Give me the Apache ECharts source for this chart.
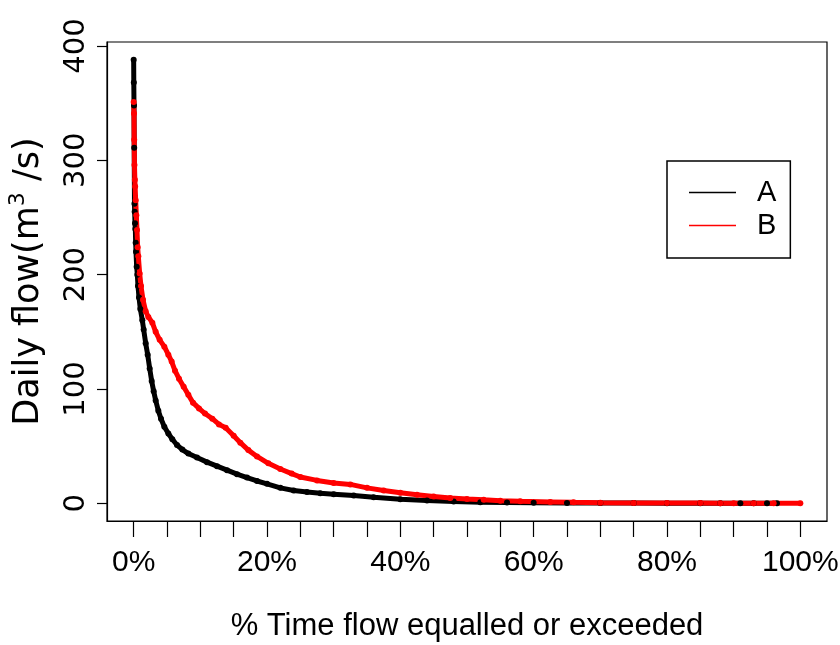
<!DOCTYPE html>
<html>
<head>
<meta charset="utf-8">
<script src="https://cdn.jsdelivr.net/npm/echarts@6/dist/echarts.min.js"></script>
<style>
  html, body { margin: 0; padding: 0; background: #fff; }
  #chart { width: 840px; height: 645px; }
</style>
</head>
<body>
<div id="chart"></div>
<script>
// flow duration curves, [% time exceeded, daily flow m3/s]
const seriesNames = ['A', 'B'];
const seriesColors = ['#000000', '#ff0000'];

const flowA = [
  [0.0, 388], [0.02, 368], [0.05, 348], [0.08, 311], [0.12, 262], [0.15, 255],
  [0.2, 245], [0.25, 240], [0.3, 228], [0.35, 220], [0.45, 207], [0.55, 200],
  [0.65, 190], [0.8, 180], [1.0, 170], [1.3, 160], [1.5, 152], [1.8, 140],
  [2.1, 130], [2.4, 118], [2.7, 107], [3.0, 98], [3.3, 90], [3.7, 81],
  [4.1, 74], [4.6, 67], [5.2, 61], [5.8, 56], [6.5, 51], [7.3, 47],
  [8.2, 43.5], [9.5, 40], [11, 36], [12.5, 32.5], [14, 29], [15.5, 25.5],
  [17, 22.5], [18.5, 19.5], [20, 17], [22, 13.5], [24, 11.2], [26, 9.8],
  [28, 8.7], [30, 8], [33, 6.8], [36, 5.3], [40, 3.5], [44, 2.4],
  [48, 1.6], [52, 1.0], [56, 0.6], [60, 0.4], [65, 0.3], [70, 0.2],
  [75, 0.15], [80, 0.1], [85, 0.1], [88, 0.05], [91, 0.05], [93, 0.02],
  [95, 0], [96.5, 0]
];

const flowB = [
  [0.0, 351], [0.05, 341], [0.08, 318], [0.12, 296], [0.18, 283], [0.22, 277],
  [0.3, 265], [0.4, 252], [0.5, 239], [0.6, 224], [0.7, 216], [0.9, 201],
  [1.1, 190], [1.4, 178], [1.8, 168], [2.2, 163], [2.8, 158], [3.3, 150],
  [3.9, 143], [4.6, 137], [5.2, 130], [5.7, 124], [6.2, 116], [6.8, 109],
  [7.5, 102], [8.2, 95], [8.9, 88], [9.8, 83], [10.7, 78.5], [11.8, 74],
  [12.8, 69], [13.8, 66], [15, 59], [16, 53], [17.2, 46.5], [18.5, 41],
  [20.2, 35], [22, 30], [23.7, 26], [25, 23], [27.5, 20], [30, 17.8],
  [32.5, 16.5], [35, 13.5], [37.5, 11.2], [40, 9.3], [42.5, 7.5], [45, 6],
  [47.5, 4.7], [50, 3.8], [52.5, 3.0], [55, 2.3], [58, 1.7], [62.5, 1.2],
  [66, 0.8], [70, 0.4], [75, 0.3], [80, 0.2], [85, 0.15], [88, 0.1],
  [90, 0.1], [93, 0.05], [96, 0.02], [100, 0]
];

const xTicks = [0, 5, 10, 15, 20, 25, 30, 35, 40, 45, 50, 55, 60, 65, 70, 75, 80, 85, 90, 95, 100];
const xLabels = [0, 20, 40, 60, 80, 100];
const yTicks = [0, 100, 200, 300, 400];

const narrow = "'Liberation Sans Narrow', 'Arial Narrow', 'Liberation Sans', sans-serif";
const wide = "'DejaVu Sans', sans-serif";

const chart = echarts.init(document.getElementById('chart'));

const option = {
  backgroundColor: '#fff',
  animation: false,
  grid: {
    left: 107,
    right: 13,
    top: 42,
    bottom: 124,
    outerBoundsMode: 'none',
    containLabel: false,
    show: true,
    borderColor: '#000',
    borderWidth: 1.2,
  },
  legend: {
    data: seriesNames,
    orient: 'vertical',
    left: 667,
    top: 161,
    icon: 'rect',
    itemWidth: 47,
    itemHeight: 1.5,
    itemGap: 4,
    borderColor: '#000',
    borderWidth: 1.5,
    padding: [17, 14, 18, 22],
    textStyle: {
      fontFamily: narrow,
      fontSize: 29,
      lineHeight: 28,
      color: '#000',
      padding: [0, 0, 0, 16],
    },
  },
  xAxis: {
    type: 'value',
    min: -4,
    max: 104,
    name: '% Time flow equalled or exceeded',
    nameLocation: 'middle',
    nameGap: 90,
    nameTextStyle: {
      fontFamily: narrow,
      fontSize: 31,
      color: '#000',
    },
    splitLine: { show: false },
    axisLine: { show: true, onZero: false, lineStyle: { color: '#000', width: 1.2 } },
    axisTick: {
      show: true,
      length: 16,
      customValues: xTicks,
      lineStyle: { color: '#000', width: 1.2 },
    },
    axisLabel: {
      customValues: xLabels,
      formatter: (v) => v + '%',
      margin: 27,
      fontFamily: narrow,
      fontSize: 30,
      color: '#000',
    },
  },
  yAxis: {
    type: 'value',
    min: -15.5,
    max: 403.5,
    name: 'Daily flow(m{sup|3} /s)',
    nameLocation: 'middle',
    nameRotate: 90,
    nameGap: 56,
    nameTextStyle: {
      fontFamily: wide,
      fontSize: 35,
      lineHeight: 44,
      color: '#000',
      rich: {
        sup: {
          fontFamily: wide,
          fontSize: 22,
          verticalAlign: 'top',
          lineHeight: 20,
          color: '#000',
        },
      },
    },
    splitLine: { show: false },
    axisLine: { show: true, onZero: false, lineStyle: { color: '#000', width: 1.2 } },
    axisTick: {
      show: true,
      length: 10,
      customValues: yTicks,
      lineStyle: { color: '#000', width: 1.2 },
    },
    axisLabel: {
      customValues: yTicks,
      rotate: 90,
      margin: 16,
      fontFamily: wide,
      fontSize: 29,
      color: '#000',
    },
  },
  series: [
    {
      name: seriesNames[0],
      type: 'line',
      data: flowA,
      symbol: 'circle',
      symbolSize: 6,
      showAllSymbol: true,
      itemStyle: { color: seriesColors[0] },
      lineStyle: { color: seriesColors[0], width: 5 },
    },
    {
      name: seriesNames[1],
      type: 'line',
      data: flowB,
      symbol: 'circle',
      symbolSize: 6,
      showAllSymbol: true,
      itemStyle: { color: seriesColors[1] },
      lineStyle: { color: seriesColors[1], width: 5 },
    },
  ],
};

chart.setOption(option);
</script>
</body>
</html>
